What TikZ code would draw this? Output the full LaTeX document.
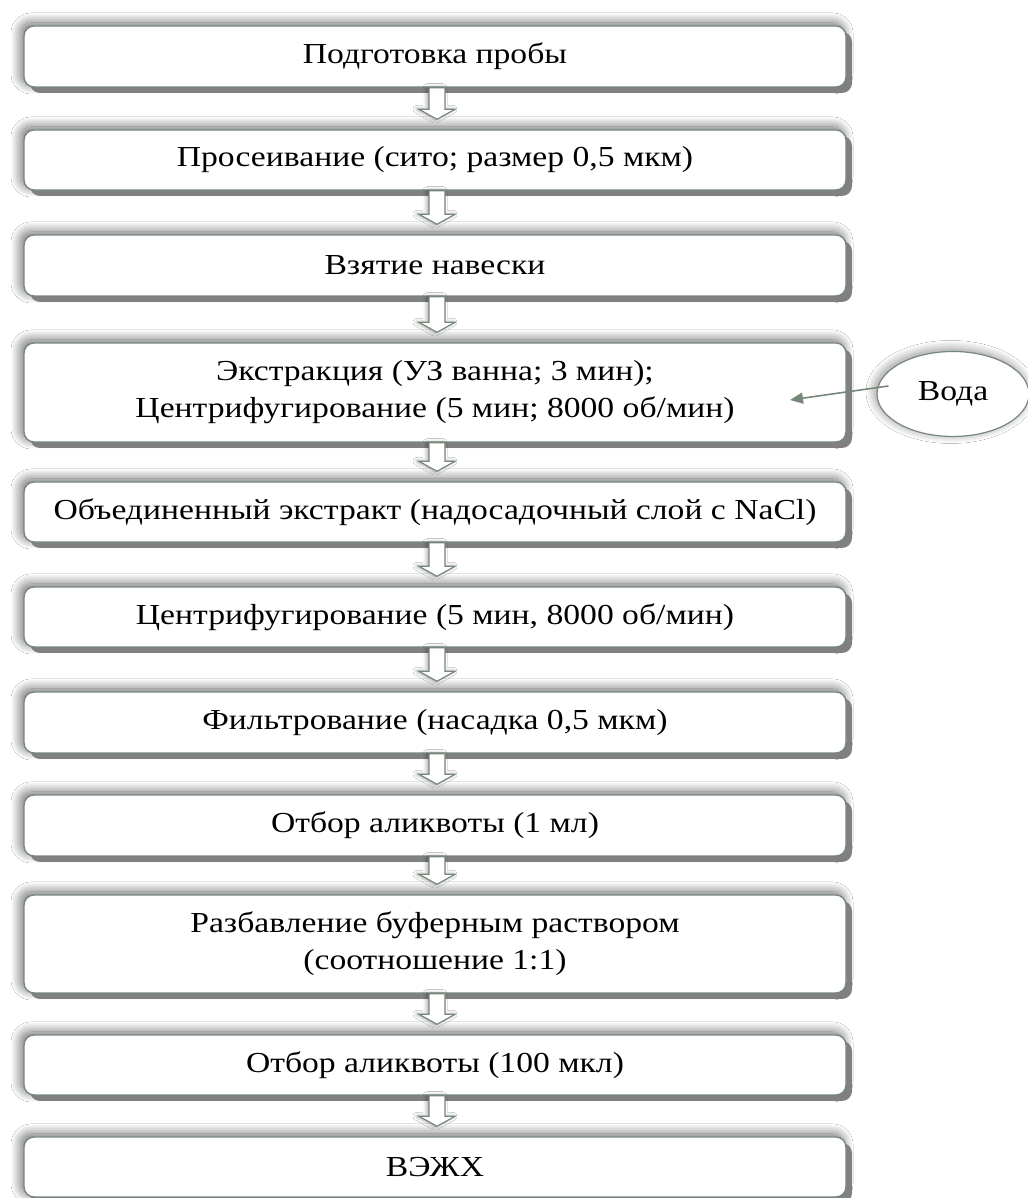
\documentclass[tikz,border=0pt]{standalone}
\usepackage{fontspec}
\setmainfont{Liberation Serif}[FakeStretch=1.16]
\usetikzlibrary{shapes.geometric,shadows,shadows.blur,calc,arrows.meta}
\definecolor{edgecol}{RGB}{118,136,122}
\definecolor{shdcol}{RGB}{128,128,128}
\newcommand\flowarrow[2]{%
  \path[blockarr] let \p1=(#1.south), \p2=(#2.north) in
    (\x1-6,\y1) -- (\x1-6,\y2+20) -- (\x1-16,\y2+20) -- (\x1+2,\y2+10)
    -- (\x1+20,\y2+20) -- (\x1+10,\y2+20) -- (\x1+10,\y1) -- cycle;}
\begin{document}
\begin{tikzpicture}[x=1pt,y=1pt,
  stepbox/.style={draw=edgecol, line width=1.4pt, fill=white,
    rounded corners=10pt, minimum width=822pt, align=center,
    font=\fontsize{29}{37}\selectfont, inner sep=0pt,
    blur shadow={shadow xshift=-3pt, shadow yshift=3pt,
      shadow blur radius=10pt, shadow blur steps=30, shadow opacity=60},
    drop shadow={shadow xshift=6pt, shadow yshift=-6pt,
      fill=shdcol, opacity=1}},
  blockarr/.style={draw=edgecol, line width=1.2pt, fill=white,
    blur shadow={shadow xshift=-2pt, shadow yshift=0pt,
      shadow blur radius=4pt, shadow blur steps=12, shadow opacity=35}},
  srcell/.style={ellipse, draw=edgecol, line width=1.2pt, fill=white,
    minimum width=152pt, minimum height=85pt, inner sep=0pt,
    font=\fontsize{29}{37}\selectfont,
    blur shadow={shadow xshift=-2pt, shadow yshift=2pt,
      shadow blur radius=9pt, shadow blur steps=30, shadow opacity=45}},
  thinarr/.style={draw=edgecol, line width=1.6pt,
    -{Triangle[length=13pt,width=11pt]}}
]
\useasboundingbox (0,0) rectangle (1027,1198);
\fill[white] (0,0) rectangle (1027,1198);

\node[stepbox, minimum height=61pt] (b1) at (435,1141.5) {Подготовка пробы};
\node[stepbox, minimum height=60pt] (b2) at (435,1038) {Просеивание (сито; размер 0,5 мкм)};
\node[stepbox, minimum height=61pt] (b3) at (435,932.5) {Взятие навески};
\node[stepbox, minimum height=99pt] (b4) at (435,805.5) {Экстракция (УЗ ванна; 3 мин);\\Центрифугирование (5 мин; 8000 об/мин)};
\node[stepbox, minimum height=60pt] (b5) at (435,686) {Объединенный экстракт (надосадочный слой с NaCl)};
\node[stepbox, minimum height=60pt] (b6) at (435,581) {Центрифугирование (5 мин, 8000 об/мин)};
\node[stepbox, minimum height=61pt] (b7) at (435,475.5) {Фильтрование (насадка 0,5 мкм)};
\node[stepbox, minimum height=61pt] (b8) at (435,372.5) {Отбор аликвоты (1 мл)};
\node[stepbox, minimum height=98pt] (b9) at (435,254) {Разбавление буферным раствором\\(соотношение 1:1)};
\node[stepbox, minimum height=60pt] (b10) at (435,133) {Отбор аликвоты (100 мкл)};
\node[stepbox, minimum height=60pt] (b11) at (435,31) {ВЭЖХ};

\flowarrow{b1}{b2}
\flowarrow{b2}{b3}
\flowarrow{b3}{b4}
\flowarrow{b4}{b5}
\flowarrow{b5}{b6}
\flowarrow{b6}{b7}
\flowarrow{b7}{b8}
\flowarrow{b8}{b9}
\flowarrow{b9}{b10}
\flowarrow{b10}{b11}

\node[srcell] (voda) at (953,804) {Вода};
\coordinate (vodatip) at (790,798);
\draw[thinarr] ($(voda.west)+(12,8)$) -- (vodatip);
\end{tikzpicture}
\end{document}
